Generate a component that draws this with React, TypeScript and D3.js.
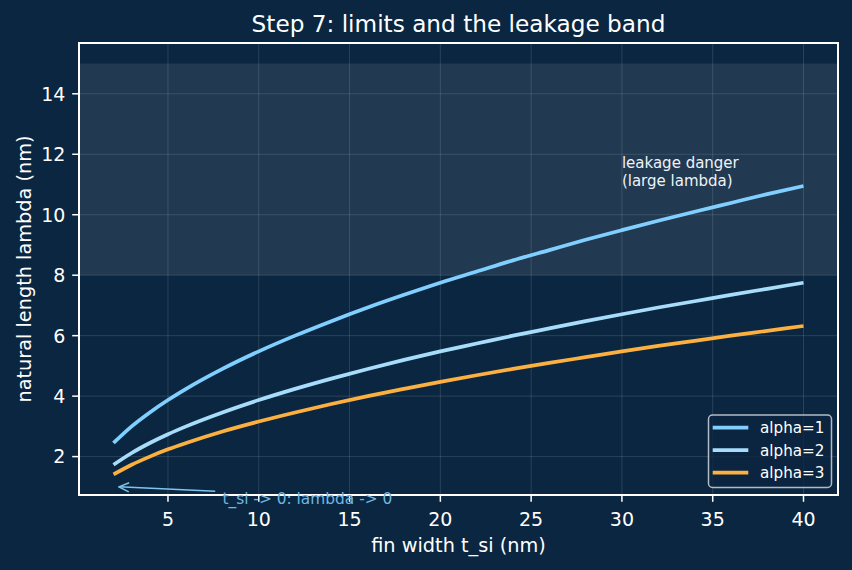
import React from "react";
import * as d3 from "d3";

const tValues = [2, 3, 4, 5, 6, 8, 10, 12, 14, 16, 18, 20, 22, 24, 26, 28, 30, 32, 34, 36, 38, 40];
const lambdaAlpha1 = [2.45, 3.0, 3.46, 3.87, 4.24, 4.9, 5.48, 6.0, 6.48, 6.93, 7.35, 7.75, 8.12, 8.49, 8.83, 9.17, 9.49, 9.8, 10.1, 10.39, 10.68, 10.95];
const lambdaAlpha2 = [1.73, 2.12, 2.45, 2.74, 3.0, 3.46, 3.87, 4.24, 4.58, 4.9, 5.2, 5.48, 5.74, 6.0, 6.24, 6.48, 6.71, 6.93, 7.14, 7.35, 7.55, 7.75];
const lambdaAlpha3 = [1.41, 1.73, 2.0, 2.24, 2.45, 2.83, 3.16, 3.46, 3.74, 4.0, 4.24, 4.47, 4.69, 4.9, 5.1, 5.29, 5.48, 5.66, 5.83, 6.0, 6.16, 6.32];
const seriesNames = ["alpha=1", "alpha=2", "alpha=3"];
const xTicks = [5, 10, 15, 20, 25, 30, 35, 40];
const yTicks = [2, 4, 6, 8, 10, 12, 14];
const bandRange = [8, 15];

const W = 852, H = 570;
const L = 79, R = 838, T = 43, B = 495;
const BG = "#0b2640";
const colors = ["#80cfff", "#a8dcfb", "#fbb040"];

export default function App() {
  const x = d3.scaleLinear().domain([0.1, 41.9]).range([L, R]);
  const y = d3.scaleLinear().domain([0.73, 15.68]).range([B, T]);
  const series = [lambdaAlpha1, lambdaAlpha2, lambdaAlpha3];
  const line = d3
    .line<number>()
    .x((_, i) => x(tValues[i]))
    .y((d) => y(d))
    .curve(d3.curveMonotoneX);
  const font = "DejaVu Sans, sans-serif";
  const legX = 708.5, legY = 415;
  const tickLen = 6.8;
  return (
    <svg width={W} height={H} style={{ position: "absolute", left: 0, top: 0, background: BG }} fontFamily={font}>
      <rect x={0} y={0} width={W} height={H} fill={BG} />
      <defs>
        <marker id="ah" viewBox="0 0 12 12" refX="11" refY="6" markerWidth="12" markerHeight="12" orient="auto" markerUnits="userSpaceOnUse">
          <path d="M1,1.5 L11,6 L1,10.5" fill="none" stroke="#7cc6ee" strokeWidth={1.5} />
        </marker>
      </defs>
      {/* band */}
      <rect x={L} y={y(bandRange[1])} width={R - L} height={y(bandRange[0]) - y(bandRange[1])} fill="#ffffff" fillOpacity={0.09} />
      {/* grid */}
      {xTicks.map((t) => (
        <line key={"gx" + t} x1={x(t)} x2={x(t)} y1={T} y2={B} stroke="#ffffff" strokeOpacity={0.13} strokeWidth={1} />
      ))}
      {yTicks.map((t) => (
        <line key={"gy" + t} x1={L} x2={R} y1={y(t)} y2={y(t)} stroke="#ffffff" strokeOpacity={0.13} strokeWidth={1} />
      ))}
      {/* lines */}
      {series.map((s, i) => (
        <path key={i} d={line(s) || ""} fill="none" stroke={colors[i]} strokeWidth={3.7} strokeLinecap="butt" />
      ))}
      {/* band label */}
      <text x={x(30)} y={168} fill="#eef3f8" fontSize={15}>leakage danger</text>
      <text x={x(30)} y={185.5} fill="#eef3f8" fontSize={15}>(large lambda)</text>
      {/* spines */}
      <rect x={L} y={T} width={R - L} height={B - T} fill="none" stroke="#ffffff" strokeWidth={2} />
      {/* ticks */}
      {xTicks.map((t) => (
        <g key={"tx" + t}>
          <line x1={x(t)} x2={x(t)} y1={B} y2={B + tickLen} stroke="#ffffff" strokeWidth={1.5} />
          <text x={x(t)} y={525.7} textAnchor="middle" fill="#ffffff" fontSize={19}>{t}</text>
        </g>
      ))}
      {yTicks.map((t) => (
        <g key={"ty" + t}>
          <line x1={L - tickLen} x2={L} y1={y(t)} y2={y(t)} stroke="#ffffff" strokeWidth={1.5} />
          <text x={L - tickLen - 6.8} y={y(t)} dy="0.36em" textAnchor="end" fill="#ffffff" fontSize={19}>{t}</text>
        </g>
      ))}
      {/* annotation arrow */}
      <line x1={x(7.6)} y1={y(0.85)} x2={x(2.3)} y2={y(1.0)} stroke="#7cc6ee" strokeWidth={1.5} markerEnd="url(#ah)" />
      <text x={x(8)} y={503.5} fill="#6fb8e2" fontSize={15.4}>t_si -&gt; 0: lambda -&gt; 0</text>
      {/* title & labels */}
      <text x={(L + R) / 2} y={32} textAnchor="middle" fill="#ffffff" fontSize={23.2}>Step 7: limits and the leakage band</text>
      <text x={(L + R) / 2} y={552} textAnchor="middle" fill="#ffffff" fontSize={19.3}>fin width t_si (nm)</text>
      <text transform={`translate(31,${(T + B) / 2}) rotate(-90)`} textAnchor="middle" fill="#ffffff" fontSize={19.3}>natural length lambda (nm)</text>
      {/* legend */}
      <rect x={legX} y={legY} width={123} height={72.5} rx={4} fill={BG} fillOpacity={0.8} stroke="#cfd6de" strokeOpacity={0.85} strokeWidth={1.5} />
      {seriesNames.map((n, i) => (
        <g key={n}>
          <line x1={712.7} x2={748.3} y1={427.7 + i * 22.5} y2={427.7 + i * 22.5} stroke={colors[i]} strokeWidth={3.7} />
          <text x={760} y={427.7 + i * 22.5} dy="0.36em" fill="#ffffff" fontSize={15.2}>{n}</text>
        </g>
      ))}
    </svg>
  );
}
